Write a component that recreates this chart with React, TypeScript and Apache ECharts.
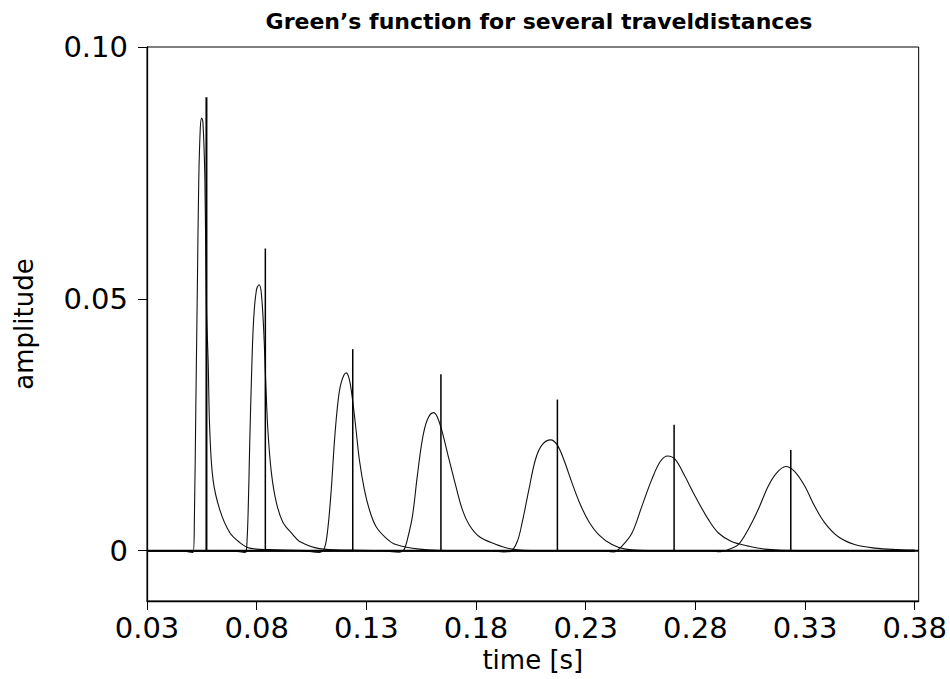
import React, { useEffect, useRef } from "react";
import * as echarts from "echarts";

// Green's function curves, [time s, amplitude]
const pulse1: [number, number][] = [
  [0.03, 0], [0.045, 0], [0.0486, -0.0002], [0.0510, -0.00035], [0.0516, 0.0062], [0.0523, 0.030],
  [0.0530, 0.0538], [0.0536, 0.0736], [0.0543, 0.0839], [0.0549, 0.0859], [0.0555, 0.0851],
  [0.0564, 0.0736], [0.0571, 0.0485], [0.0579, 0.0372], [0.0586, 0.024], [0.0601, 0.0141],
  [0.0632, 0.0081], [0.0677, 0.0036], [0.0723, 0.0016], [0.0768, 0.0005], [0.0859, 0.0002],
  [0.1086, 0], [0.38, 0],
];
const pulse2: [number, number][] = [
  [0.03, 0], [0.07, -0.0001], [0.0746, -0.00034], [0.0753, -0.0001], [0.0761, 0.0075], [0.0768, 0.0207],
  [0.0776, 0.0339], [0.0786, 0.0458], [0.0799, 0.0518], [0.0811, 0.0528], [0.0821, 0.0512],
  [0.0832, 0.0438], [0.0841, 0.0339], [0.0851, 0.024], [0.0867, 0.0155], [0.089, 0.0095],
  [0.092, 0.0056], [0.0965, 0.0032], [0.0996, 0.0018], [0.1086, 0.0004], [0.1223, 0.0001],
  [0.145, 0], [0.38, 0],
];
const pulse3: [number, number][] = [
  [0.03, 0], [0.0995, 0], [0.1086, -0.00034], [0.1109, 0.0005], [0.1124, 0.0042], [0.114, 0.0121],
  [0.1155, 0.022], [0.117, 0.0293], [0.1185, 0.0333], [0.1208, 0.0353], [0.1223, 0.0339],
  [0.1238, 0.0296], [0.1253, 0.024], [0.1268, 0.0181], [0.1291, 0.0121], [0.1314, 0.0081],
  [0.1344, 0.0048], [0.139, 0.0025], [0.1435, 0.0012], [0.1541, 0.0003], [0.1723, 0], [0.38, 0],
];
const pulse4: [number, number][] = [
  [0.03, 0], [0.1359, 0], [0.145, -0.0003], [0.1472, 0.0002], [0.1487, 0.0022], [0.151, 0.0068],
  [0.1532, 0.0147], [0.1555, 0.022], [0.1578, 0.026], [0.1606, 0.0274], [0.1624, 0.0265],
  [0.1647, 0.0234], [0.1677, 0.0181], [0.1708, 0.0128], [0.1738, 0.0081], [0.1768, 0.0052],
  [0.1814, 0.0028], [0.1882, 0.0014], [0.1965, 0.0003], [0.2086, 0], [0.38, 0],
];
const pulse5: [number, number][] = [
  [0.03, 0], [0.1859, 0], [0.1927, -0.00026], [0.1959, -0.0001], [0.1988, 0.0018], [0.201, 0.0055],
  [0.2041, 0.0121], [0.2071, 0.0181], [0.2101, 0.021], [0.214, 0.022], [0.217, 0.021],
  [0.22, 0.0181], [0.2238, 0.0134], [0.2276, 0.0091], [0.2314, 0.0058], [0.2359, 0.0032],
  [0.242, 0.0012], [0.2481, 0.0003], [0.2632, 0], [0.38, 0],
];
const pulse6: [number, number][] = [
  [0.03, 0], [0.2359, 0], [0.2427, -0.00024], [0.2465, 0.0009], [0.2511, 0.0035], [0.2556, 0.0088],
  [0.2601, 0.0141], [0.264, 0.0177], [0.2674, 0.0188], [0.2708, 0.0181], [0.2753, 0.0147],
  [0.2799, 0.0108], [0.2859, 0.0062], [0.2905, 0.0035], [0.2965, 0.0018], [0.3041, 0.0009],
  [0.3117, 0.0003], [0.3268, 0], [0.38, 0],
];
const pulse7: [number, number][] = [
  [0.03, 0], [0.2859, 0], [0.2914, -0.0002], [0.295, 0.0002], [0.2996, 0.0012], [0.3041, 0.0042],
  [0.3086, 0.0081], [0.3132, 0.0128], [0.317, 0.0154], [0.3212, 0.0167], [0.3253, 0.0157],
  [0.3299, 0.0128], [0.3344, 0.0088], [0.339, 0.0055], [0.345, 0.0028], [0.3526, 0.0012],
  [0.3617, 0.0005], [0.3723, 0.0002], [0.38, 0.0001],
];

// arrival spikes
const spikeTimes = [0.0571, 0.08395, 0.1238, 0.164, 0.2171, 0.2703, 0.3235];
const spikeHeights = [0.09, 0.06, 0.04, 0.035, 0.03, 0.025, 0.02];

const xTicks = [0.03, 0.08, 0.13, 0.18, 0.23, 0.28, 0.33, 0.38];
const yTicks = [0, 0.05, 0.1];

const FONT = "DejaVu Sans, Liberation Sans, Arial, sans-serif";

export default function App() {
  const ref = useRef<HTMLDivElement>(null);

  useEffect(() => {
    if (!ref.current) return;
    const chart = echarts.init(ref.current, undefined, { renderer: "svg" });
    const pulses = [pulse1, pulse2, pulse3, pulse4, pulse5, pulse6, pulse7];

    const series: any[] = [];
    series.push({
      type: "line",
      data: [[0.03, 0], [0.3818, 0]],
      showSymbol: false,
      lineStyle: { color: "#000", width: 2 },
      z: 3,
      silent: true,
    });
    pulses.forEach((p) => {
      series.push({
        type: "line",
        data: p,
        showSymbol: false,
        smooth: 0.35,
        lineStyle: { color: "#111", width: 1.1 },
        z: 2,
        silent: true,
      });
    });
    spikeTimes.forEach((t, i) => {
      series.push({
        type: "line",
        data: [[t, 0], [t, spikeHeights[i]]],
        showSymbol: false,
        lineStyle: { color: "#000", width: i === 0 ? 2 : 1.5 },
        z: 4,
        silent: true,
      });
    });

    chart.setOption({
      animation: false,
      backgroundColor: "#fff",
      title: {
        text: "Green’s function for several traveldistances",
        left: 534,
        textAlign: "center",
        top: 5,
        textStyle: { fontFamily: FONT, fontWeight: "bold", fontSize: 22, color: "#000" },
      },
      grid: {
        left: 147,
        top: 47,
        width: 774,
        height: 554,
        show: true,
        borderColor: "#000",
        borderWidth: 1,
        backgroundColor: "transparent",
      },
      xAxis: {
        type: "value",
        min: 0.03,
        max: 0.3818,
        name: "time [s]",
        nameLocation: "middle",
        nameGap: 40,
        nameTextStyle: { fontFamily: FONT, fontSize: 26, color: "#000" },
        axisLine: { show: true, onZero: false, lineStyle: { color: "#000", width: 1.3 } },
        axisTick: { show: true, inside: false, length: 9, customValues: xTicks, lineStyle: { color: "#000", width: 1 } },
        axisLabel: {
          customValues: xTicks,
          margin: 12,
          fontFamily: FONT,
          fontSize: 29,
          color: "#000",
          formatter: (v: number) => v.toFixed(2),
        },
        splitLine: { show: false },
      },
      yAxis: {
        type: "value",
        min: -0.01,
        max: 0.1,
        name: "amplitude",
        nameLocation: "middle",
        nameGap: 110,
        nameTextStyle: { fontFamily: FONT, fontSize: 26, color: "#000" },
        axisLine: { show: true, onZero: false, lineStyle: { color: "#000", width: 1.3 } },
        axisTick: { show: true, inside: false, length: 9, customValues: yTicks, lineStyle: { color: "#000", width: 1 } },
        axisLabel: {
          customValues: yTicks,
          margin: 19,
          fontFamily: FONT,
          fontSize: 29,
          color: "#000",
          formatter: (v: number) => (v === 0 ? "0" : v.toFixed(2)),
        },
        splitLine: { show: false },
      },
      series,
    });
    return () => chart.dispose();
  }, []);

  return (
    <div
      ref={ref}
      style={{ position: "fixed", left: 0, top: 0, width: 950, height: 679, background: "#fff" }}
    />
  );
}
